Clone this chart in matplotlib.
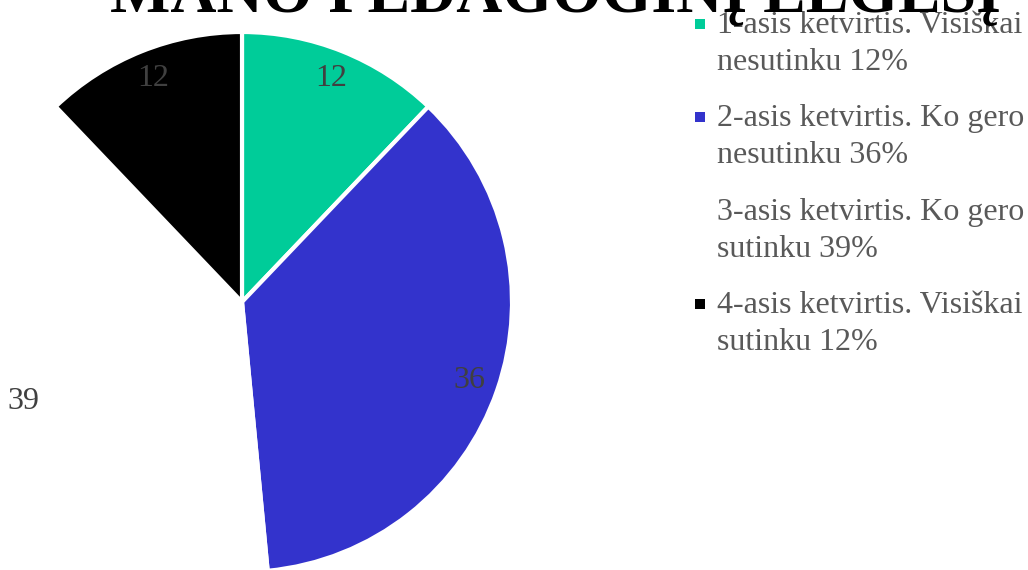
import matplotlib
matplotlib.use("Agg")
import matplotlib.pyplot as plt
from matplotlib.patches import Rectangle


title = "MANO PEDAGOGINĮ ELGESĮ"
values = [12, 36, 39, 12]
colors = ["#00CC99", "#3333CC", "#FFFFFF", "#000000"]
legend_labels = [
    "1-asis ketvirtis. Visiškai\nnesutinku 12%",
    "2-asis ketvirtis. Ko gero\nnesutinku 36%",
    "3-asis ketvirtis. Ko gero\nsutinku 39%",
    "4-asis ketvirtis. Visiškai\nsutinku 12%",
]

W, H = 1028, 570
plt.rcParams["font.family"] = ["Liberation Serif", "DejaVu Serif"]

fig = plt.figure(figsize=(W / 100, H / 100), dpi=100)

# pie: centre at (242, 302) px, radius 270 px
cx, cy, r = 242, 302, 270
ax = fig.add_axes([(cx - r) / W, (H - cy - r) / H, 2 * r / W, 2 * r / H])
wedges, texts = ax.pie(values, colors=colors, startangle=90, counterclock=False,
                       labels=[str(v) for v in values], labeldistance=0.89,
                       wedgeprops=dict(edgecolor="white", linewidth=3),
                       textprops=dict(color="#404040", fontsize=23))
for w in wedges:
    w.set_clip_on(False)
for t in texts:
    t.set_ha("center")
    t.set_va("center")
ax.set_xlim(-1, 1)
ax.set_ylim(-1, 1)
ax.axis("off")

# legend, drawn by hand
y0 = 33
for i, (lab, col) in enumerate(zip(legend_labels, colors)):
    yb = y0 + i * 93.3
    fig.patches.append(Rectangle((695 / W, 1 - (yb - 4) / H), 10 / W, 10 / H,
                                 transform=fig.transFigure, facecolor=col,
                                 edgecolor="none"))
    for j, line in enumerate(lab.split("\n")):
        fig.text(717 / W, 1 - (yb + j * 37) / H, line, fontsize=23,
                 color="#595959", va="baseline", ha="left")

fig.text(555 / W, 1 - 12 / H, title, fontsize=46, fontweight="bold",
         color="black", ha="center", va="baseline")

fig.savefig("out.png", dpi=100)
